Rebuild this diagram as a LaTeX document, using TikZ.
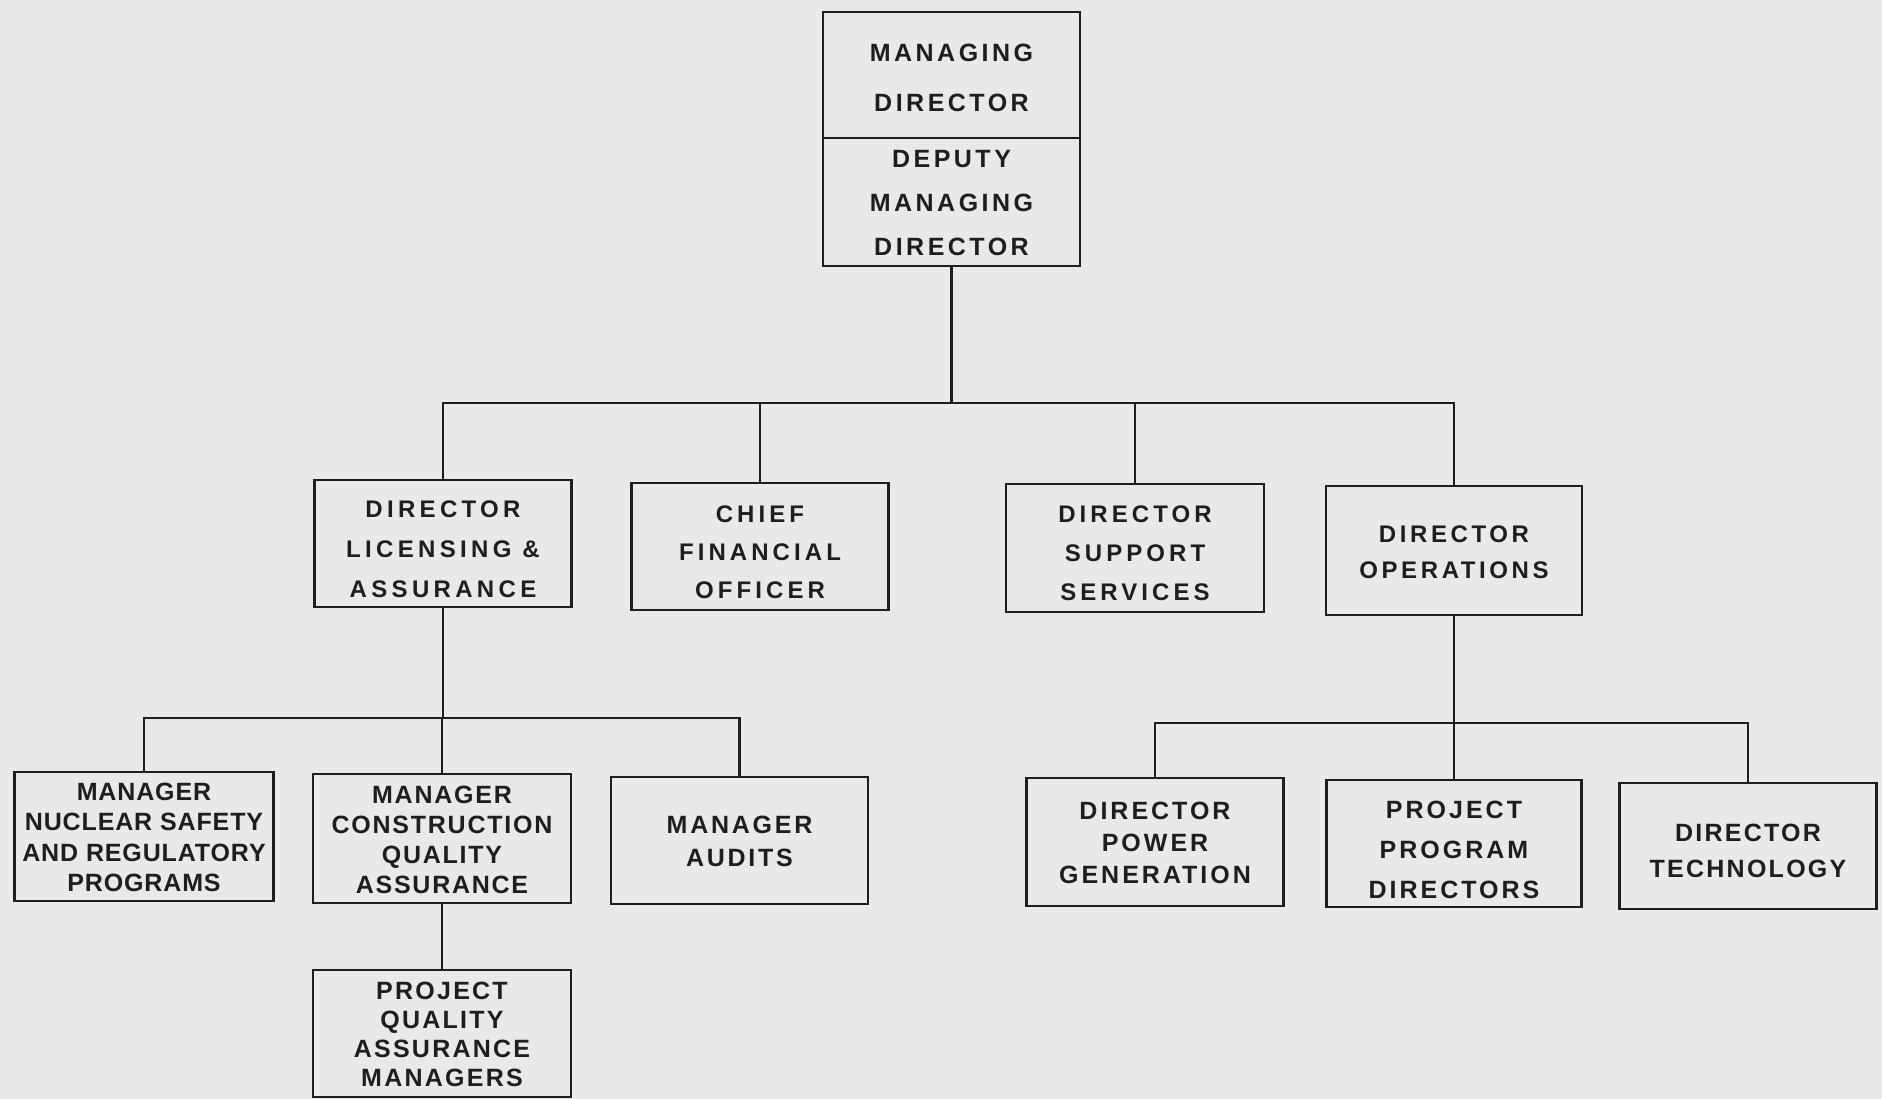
\documentclass[tikz,border=0pt]{standalone}
\usepackage{fontspec}
\newfontfamily\lab{Liberation Sans}
\definecolor{bg}{RGB}{233,233,231}
\definecolor{ink}{RGB}{30,30,30}
\newcommand{\fnt}[3]{\lab\bfseries\fontsize{#1}{#2}\selectfont\addfontfeature{LetterSpace=#3}}
\begin{document}
\begin{tikzpicture}[x=1pt,y=-1pt,
  box/.style={draw=ink, line width=2.6pt, inner sep=0pt,
    minimum width=257pt, minimum height=127pt},
  txt/.style={inner sep=0pt, align=center, text=ink},
  wire/.style={draw=ink, line width=2.6pt}]
\fill[bg] (0,0) rectangle (1882,1099);
\useasboundingbox (0,0) rectangle (1882,1099);
% boxes
\node[box, minimum height=126pt] (md) at (951.5,75) {};
\node[box, minimum height=128pt] (dmd) at (951.5,202) {};
\node[box] (dla) at (443,543.5) {};
\node[box] (cfo) at (760,546.5) {};
\node[box, minimum width=258pt, minimum height=128pt] (dss) at (1135,548) {};
\node[box, minimum width=256pt, minimum height=129pt] (dop) at (1454,550.5) {};
\node[box, minimum width=259pt, minimum height=129pt] (mns) at (144,836.5) {};
\node[box, minimum width=258pt, minimum height=129pt] (mcqa) at (442,838.5) {};
\node[box] (ma) at (739.5,840.5) {};
\node[box, minimum width=258pt] (pqam) at (442,1033.5) {};
\node[box, minimum height=128pt] (dpg) at (1155,842) {};
\node[box, minimum width=255pt] (ppd) at (1454,843.5) {};
\node[box, minimum height=126pt] (dt) at (1748,846) {};
% texts
\node[txt, font=\fnt{25}{50}{14}] (t-md) at ([yshift=-2.5pt]md.center) {MANAGING\\DIRECTOR};
\node[txt, font=\fnt{25}{44}{14}] (t-dmd) at ([yshift=-1pt]dmd.center) {DEPUTY\\MANAGING\\DIRECTOR};
\node[txt, font=\fnt{24}{40}{18}] (t-dla) at ([yshift=-6pt]dla.center) {DIRECTOR\\LICENSING \&\\ASSURANCE};
\node[txt, font=\fnt{24}{38}{17}] (t-cfo) at ([yshift=-6pt]cfo.center) {CHIEF\\FINANCIAL\\OFFICER};
\node[txt, font=\fnt{24}{39}{17}] (t-dss) at ([yshift=-5pt]dss.center) {DIRECTOR\\SUPPORT\\SERVICES};
\node[txt, font=\fnt{24}{36}{15}] (t-dop) at ([yshift=-2pt]dop.center) {DIRECTOR\\OPERATIONS};
\node[txt, font=\fnt{25}{30.5}{3.5}] (t-mns) at ([yshift=-1pt]mns.center) {MANAGER\\NUCLEAR SAFETY\\AND REGULATORY\\PROGRAMS};
\node[txt, font=\fnt{25}{30}{7}] (t-mcqa) at ([yshift=-1pt]mcqa.center) {MANAGER\\CONSTRUCTION\\QUALITY\\ASSURANCE};
\node[txt, font=\fnt{25}{32.5}{11}] (t-ma) at ([yshift=-1pt]ma.center) {MANAGER\\AUDITS};
\node[txt, font=\fnt{25}{29}{9}] (t-pqam) at ([yshift=-1pt]pqam.center) {PROJECT\\QUALITY\\ASSURANCE\\MANAGERS};
\node[txt, font=\fnt{25}{32}{12}] (t-dpg) at ([yshift=-1pt]dpg.center) {DIRECTOR\\POWER\\GENERATION};
\node[txt, font=\fnt{25}{40}{12}] (t-ppd) at ([yshift=-6pt]ppd.center) {PROJECT\\PROGRAM\\DIRECTORS};
\node[txt, font=\fnt{25}{36}{9}] (t-dt) at ([yshift=-5pt]dt.center) {DIRECTOR\\TECHNOLOGY};
% connectors
\coordinate (b1) at (951.5,403);
\coordinate (b2) at (443,718);
\coordinate (b3) at (1454,723);
\draw[wire] (dmd.south) -- (b1);
\draw[wire] (dla.north) |- (b1) -| (dop.north);
\draw[wire] (cfo.north) -- (cfo.north |- b1);
\draw[wire] (dss.north) -- (dss.north |- b1);
\draw[wire] (dla.south) -- (b2);
\draw[wire] (mns.north) |- (b2) -| (ma.north);
\draw[wire] (mcqa.north) -- (mcqa.north |- b2);
\draw[wire] (mcqa.south) -- (pqam.north);
\draw[wire] (dop.south) -- (b3);
\draw[wire] (dpg.north) |- (b3) -| (dt.north);
\draw[wire] (ppd.north) -- (ppd.north |- b3);
\end{tikzpicture}
\end{document}
